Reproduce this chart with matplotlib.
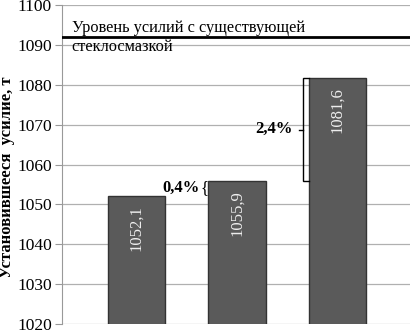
import numpy as np
import matplotlib.pyplot as plt

# data
positions = [0, 1, 2]
values = [1052.1, 1055.9, 1081.6]
value_labels = ["1052,1", "1055,9", "1081,6"]
pct_labels = ["0,4%", "2,4%"]
ref_level = 1092
ref_line1 = "Уровень усилий с существующей"
ref_line2 = "стеклосмазкой"
yticks = np.arange(1020, 1101, 10)

plt.rcParams['font.family'] = ['Liberation Serif', 'DejaVu Serif']

fig = plt.figure(figsize=(4.12, 3.31), dpi=100)
ax = fig.add_axes([0.150, 0.021, 0.845, 0.964])

w = 0.57
ax.bar(positions, values, width=w, bottom=0, color="#5a5a5a",
       edgecolor="#333333", linewidth=1.0, zorder=3)

for x, v, lab in zip(positions, values, value_labels):
    ax.text(x, v - 2.3, lab, rotation=90, ha="center", va="top",
            color="#eeeeee", fontsize=12, zorder=4)

ax.set_ylim(1020, 1100)
ax.set_xlim(-0.74, 2.72)
ax.set_yticks(yticks)
ax.tick_params(axis="y", labelsize=12.5, length=5, color="#999999", pad=2)
ax.set_xticks([])
ax.grid(axis="y", color="#b0b0b0", linewidth=0.9, zorder=0)
for s in ["top", "right", "bottom"]:
    ax.spines[s].set_visible(False)
ax.spines["left"].set_color("#999999")

ax.set_ylabel("Установившееся  усилие, т", fontsize=12, fontweight="bold", labelpad=1)
ax.yaxis.set_label_coords(-0.135, 0.46)

# reference level
ax.axhline(ref_level, color="black", linewidth=2.0, zorder=5)
ax.text(-0.64, ref_level + 0.3, ref_line1, fontsize=11.8, va="bottom", zorder=6)
ax.text(-0.64, ref_level - 0.5, ref_line2, fontsize=11.8, va="top", zorder=6)

# 0,4% curly brace
x2 = positions[1] - w / 2 - 0.035
ax.text(x2, (values[0] + values[1]) / 2, "{", fontsize=12, ha="center",
        va="center", zorder=6)
ax.text(x2 - 0.05, (values[0] + values[1]) / 2 + 0.2, pct_labels[0],
        fontsize=12, fontweight="bold", ha="right", va="center", zorder=6)

# 2,4% bracket
x3 = positions[2] - w / 2 - 0.06
bw = 0.06
ax.plot([x3 + bw, x3, x3, x3 + bw], [values[2], values[2], values[1], values[1]],
        color="black", linewidth=1.0, zorder=6, solid_joinstyle="miter")
ymid = (values[1] + values[2]) / 2
ax.plot([x3 - 0.04, x3], [ymid, ymid], color="black", linewidth=1.0, zorder=6)
ax.text(x3 - 0.1, ymid + 0.2, pct_labels[1], fontsize=12, fontweight="bold",
        ha="right", va="center", zorder=6)

fig.savefig("out.png", dpi=100)
